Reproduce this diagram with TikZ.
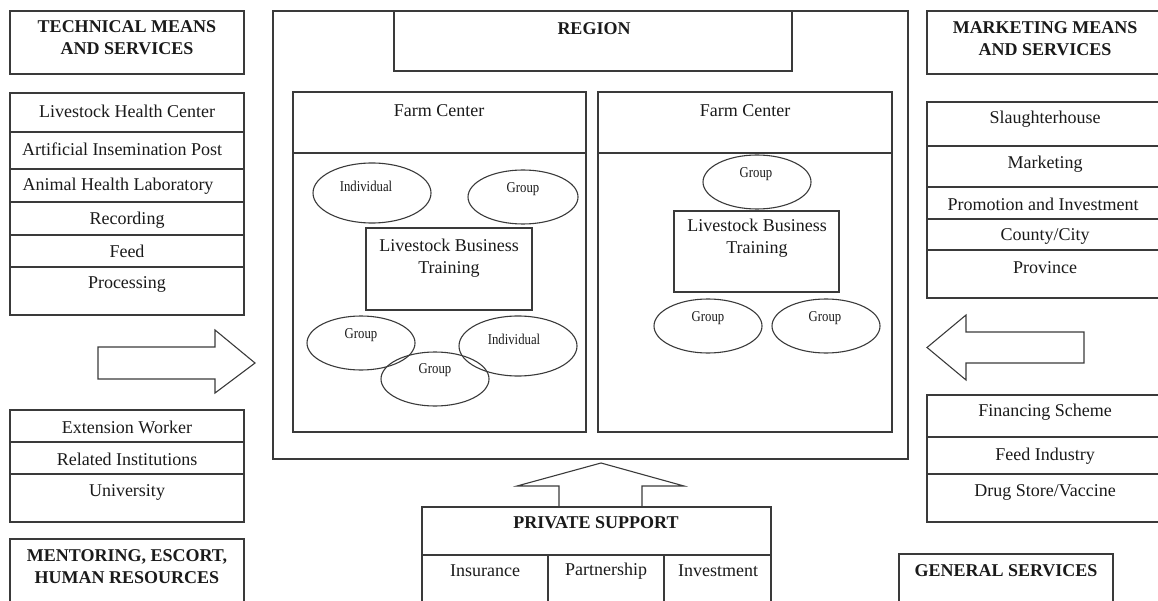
\documentclass[tikz,border=0pt]{standalone}
\usepackage{fontspec}
\setmainfont{Liberation Serif}
\newfontfamily\narrowfont[FakeStretch=0.85]{Liberation Serif}
\usetikzlibrary{shapes.geometric}
\definecolor{lc}{HTML}{3A3A3A}
\definecolor{tc}{HTML}{1A1A1A}
\begin{document}
\begin{tikzpicture}[x=1pt,y=-1pt,
  box/.style={draw=lc, line width=1.1pt, inner sep=0pt, outer sep=0pt, anchor=north west},
  rowline/.style={draw=lc, line width=1.1pt},
  blockarrow/.style={draw=lc, line width=1.1pt, line join=miter},
  txt/.style={font=\fontsize{18}{22}\selectfont, text=tc, inner sep=0pt, align=center},
  ttl/.style={font=\fontsize{18}{22}\selectfont\bfseries, text=tc, inner sep=0pt, align=center},
  small/.style={font=\narrowfont\fontsize{15}{18}\selectfont, text=tc, inner sep=0pt},
  oval/.style={draw=lc, line width=1.1pt, ellipse, inner sep=0pt, outer sep=0pt}
]
\path[use as bounding box] (0,0) rectangle (1158,601);
\clip (0,0) rectangle (1158,601);

% ---------- left column ----------
\node[box, minimum width=234pt, minimum height=63pt] (tech) at (10,11) {};
\node[ttl] (techT) at (127,38) {TECHNICAL MEANS\\AND SERVICES};

\node[box, minimum width=234pt, minimum height=222pt] (tlist) at (10,93) {};
\foreach \yy in {132,169,202,235,267}
  \draw[rowline] (tlist.west |- 0,\yy) -- (tlist.east |- 0,\yy);
\node[txt] (t1) at (127,111) {Livestock Health Center};
\node[txt] (t2) at (122,149) {Artificial Insemination Post};
\node[txt] (t3) at (118,186) {Animal Health Laboratory};
\node[txt] (t4) at (127,220) {Recording};
\node[txt] (t5) at (127,251) {Feed};
\node[txt] (t6) at (127,284) {Processing};

\node[box, minimum width=234pt, minimum height=112pt] (tlist2) at (10,410) {};
\foreach \yy in {442,474}
  \draw[rowline] (tlist2.west |- 0,\yy) -- (tlist2.east |- 0,\yy);
\node[txt] (u1) at (127,427) {Extension Worker};
\node[txt] (u2) at (127,459) {Related Institutions};
\node[txt] (u3) at (127,492) {University};

\node[box, minimum width=234pt, minimum height=70pt] (mentor) at (10,539) {};
\node[ttl] (mentorT) at (127,567) {MENTORING, ESCORT,\\HUMAN RESOURCES};

\draw[blockarrow] (98,347) -- (215,347) -- (215,330) -- (255,363) -- (215,393) -- (215,379) -- (98,379) -- cycle;

% ---------- region ----------
\node[box, minimum width=635pt, minimum height=448pt] (region) at (273,11) {};
\node[box, minimum width=398pt, minimum height=60pt] (rtitle) at (394,11) {};
\node[ttl] (regionT) at (594,29) {REGION};

\node[box, minimum width=293pt, minimum height=340pt] (fc1) at (293,92) {};
\draw[rowline] (fc1.west |- 0,153) -- (fc1.east |- 0,153);
\node[txt] (fc1T) at (439,111) {Farm Center};

\node[box, minimum width=294pt, minimum height=340pt] (fc2) at (598,92) {};
\draw[rowline] (fc2.west |- 0,153) -- (fc2.east |- 0,153);
\node[txt] (fc2T) at (745,111) {Farm Center};

\node[box, minimum width=166pt, minimum height=82pt] (lbt1) at (366,228) {};
\node[txt] (lbt1T) at (449,258) {Livestock Business\\Training};
\node[box, minimum width=165pt, minimum height=81pt] (lbt2) at (674,211) {};
\node[txt] (lbt2T) at (757,238) {Livestock Business\\Training};

\node[oval, minimum width=118pt, minimum height=60pt] (e1) at (372,193) {};
\node[small] (e1T) at (366,186) {Individual};
\node[oval, minimum width=110pt, minimum height=54pt] (e2) at (523,197) {};
\node[small] (e2T) at (523,189) {Group};
\node[oval, minimum width=108pt, minimum height=54pt] (e3) at (361,343) {};
\node[small] (e3T) at (361,335) {Group};
\node[oval, minimum width=118pt, minimum height=60pt] (e4) at (518,346) {};
\node[small] (e4T) at (514,339) {Individual};
\node[oval, minimum width=108pt, minimum height=54pt] (e5) at (435,379) {};
\node[small] (e5T) at (435,370) {Group};

\node[oval, minimum width=108pt, minimum height=54pt] (e6) at (757,182) {};
\node[small] (e6T) at (756,174) {Group};
\node[oval, minimum width=108pt, minimum height=54pt] (e7) at (708,326) {};
\node[small] (e7T) at (708,318) {Group};
\node[oval, minimum width=108pt, minimum height=54pt] (e8) at (826,326) {};
\node[small] (e8T) at (825,318) {Group};

% ---------- private support ----------
\node[box, minimum width=349pt, minimum height=110pt] (priv) at (422,507) {};
\draw[rowline] (priv.west |- 0,555) -- (priv.east |- 0,555);
\draw[rowline] (548,555) -- (548,610);
\draw[rowline] (664,555) -- (664,610);
\node[ttl] (privT) at (596,523) {PRIVATE SUPPORT};
\node[txt] (p1) at (485,571) {Insurance};
\node[txt] (p2) at (606,571) {Partnership};
\node[txt] (p3) at (718,571) {Investment};
\draw[blockarrow] (559,507) -- (559,486) -- (517,486) -- (601,463) -- (684,486) -- (642,486) -- (642,507);

% ---------- right column ----------
\node[box, minimum width=240pt, minimum height=63pt] (mkt) at (927,11) {};
\node[ttl] (mktT) at (1045,39) {MARKETING MEANS\\AND SERVICES};

\node[box, minimum width=240pt, minimum height=196pt] (mlist) at (927,102) {};
\foreach \yy in {146,187,219,250}
  \draw[rowline] (mlist.west |- 0,\yy) -- (mlist.east |- 0,\yy);
\node[txt] (m1) at (1045,119) {Slaughterhouse};
\node[txt] (m2) at (1045,164) {Marketing};
\node[txt] (m3) at (1043,204) {Promotion and Investment};
\node[txt] (m4) at (1045,236) {County/City};
\node[txt] (m5) at (1045,268) {Province};

\draw[blockarrow] (1084,332) -- (966,332) -- (966,315) -- (927,347.5) -- (966,380) -- (966,363) -- (1084,363) -- cycle;

\node[box, minimum width=240pt, minimum height=127pt] (flist) at (927,395) {};
\foreach \yy in {437,474}
  \draw[rowline] (flist.west |- 0,\yy) -- (flist.east |- 0,\yy);
\node[txt] (f1) at (1045,412) {Financing Scheme};
\node[txt] (f2) at (1045,456) {Feed Industry};
\node[txt] (f3) at (1045,492) {Drug Store/Vaccine};

\node[box, minimum width=214pt, minimum height=60pt] (gen) at (899,554) {};
\node[ttl] (genT) at (1006,571) {GENERAL SERVICES};
\end{tikzpicture}
\end{document}
